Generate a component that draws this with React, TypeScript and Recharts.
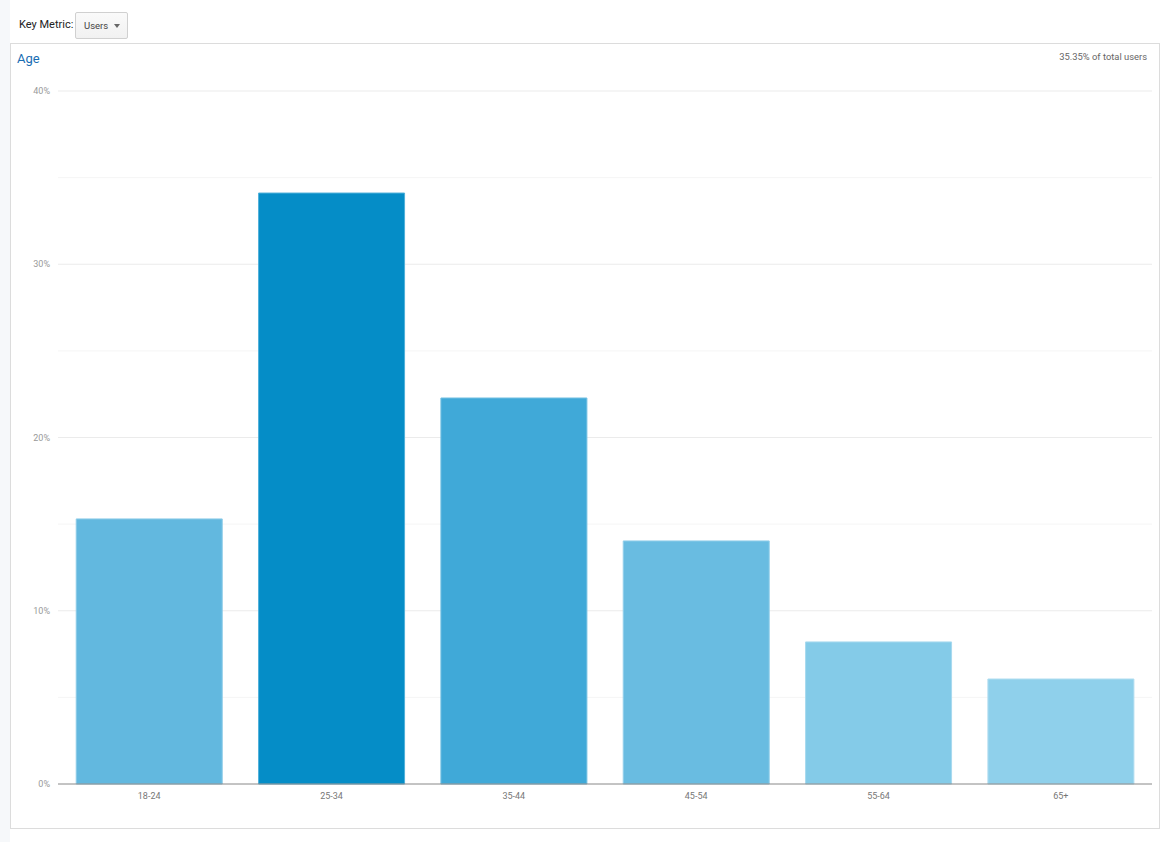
import React from "react";
import { BarChart, Bar, XAxis, YAxis, Cell, CartesianGrid } from "recharts";

// Age breakdown of users (share of users per age bracket, in %)
const ageGroups = ["18-24", "25-34", "35-44", "45-54", "55-64", "65+"];
const userShare = [15.3, 34.11, 22.28, 14.03, 8.2, 6.06];
const barColors = ["#62b8df", "#058dc7", "#40a9d8", "#69bce1", "#84cbe8", "#8fd0eb"];
const barEdges = ["#8ccbe8", "#4fb0da", "#74c0e2", "#93cfea", "#a7d9ee", "#b0ddf0"];
const majorTicks = [0, 10, 20, 30, 40];
const minorTicks = [5, 15, 25, 35];
const allTicks = [0, 5, 10, 15, 20, 25, 30, 35, 40];
const yMax = 40;

const data = ageGroups.map((age, i) => ({ age, users: userShare[i] }));

const font = "Roboto, 'Noto Sans', Arial, sans-serif";

// Places grid rows at the given values of the percent axis
const gridRows = (values: number[]) => (props: any) => {
  const scale = props?.yAxis?.scale;
  const off = props?.offset;
  const toY = (v: number): number => {
    if (typeof scale === "function") return scale(v);
    if (scale && typeof scale.map === "function") return scale.map(v);
    if (off) return off.top + off.height * (1 - v / yMax);
    return 0;
  };
  return values.filter((v) => v > 0).map(toY);
};

export default function App() {
  return (
    <div
      style={{
        position: "absolute",
        left: 0,
        top: 0,
        width: 1170,
        height: 842,
        background: "#ffffff",
        fontFamily: font,
        overflow: "hidden",
      }}
    >
      {/* side strip */}
      <div
        style={{
          position: "absolute",
          left: 0,
          top: 0,
          width: 10,
          height: 842,
          background: "#f6f8fa",
        }}
      />

      {/* key metric selector */}
      <div
        style={{
          position: "absolute",
          left: 19,
          top: 18,
          fontSize: 11,
          color: "#222",
          lineHeight: "14px",
          whiteSpace: "nowrap",
        }}
      >
        Key Metric:
      </div>
      <div
        style={{
          position: "absolute",
          left: 75,
          top: 12,
          width: 51,
          height: 25,
          border: "1px solid #d0d0d0",
          borderRadius: 2,
          background: "linear-gradient(#fafafa, #f1f1f1)",
          boxSizing: "content-box",
        }}
      >
        <span
          style={{
            position: "absolute",
            left: 8,
            top: 7,
            fontSize: 9.5,
            color: "#444",
            lineHeight: "12px",
          }}
        >
          Users
        </span>
        <span
          style={{
            position: "absolute",
            left: 38,
            top: 11,
            width: 0,
            height: 0,
            borderLeft: "3.5px solid transparent",
            borderRight: "3.5px solid transparent",
            borderTop: "4px solid #666",
          }}
        />
      </div>

      {/* chart panel */}
      <div
        style={{
          position: "absolute",
          left: 10,
          top: 43,
          width: 1148,
          height: 784,
          border: "1px solid #dcdcdc",
        }}
      />
      <div
        style={{
          position: "absolute",
          left: 17,
          top: 51,
          fontSize: 13,
          color: "#1a6db3",
          lineHeight: "16px",
        }}
      >
        Age
      </div>
      <div
        style={{
          position: "absolute",
          right: 23,
          top: 51,
          fontSize: 9.4,
          color: "#666",
          lineHeight: "12px",
          whiteSpace: "nowrap",
        }}
      >
        35.35% of total users
      </div>

      <div style={{ position: "absolute", left: 0, top: 0 }}>
        <BarChart
          width={1170}
          height={842}
          data={data}
          margin={{ top: 91, right: 18, bottom: 28, left: 18 }}
          barCategoryGap="10%"
        >
          <CartesianGrid
            vertical={false}
            stroke="#f5f5f5"
            horizontalCoordinatesGenerator={gridRows(minorTicks)}
          />
          <CartesianGrid
            vertical={false}
            stroke="#ebebeb"
            horizontalCoordinatesGenerator={gridRows(majorTicks)}
          />
          <XAxis
            dataKey="age"
            axisLine={{ stroke: "#888888", strokeWidth: 1 }}
            tickLine={false}
            tick={{ fontSize: 9, fill: "#777", fontFamily: font }}
            tickMargin={3}
            height={30}
          />
          <YAxis
            domain={[0, yMax]}
            ticks={allTicks}
            interval={0}
            tickFormatter={(v: number) => (v % 10 === 0 ? `${v}%` : "")}
            axisLine={false}
            tickLine={false}
            tick={{ fontSize: 9, fill: "#999", fontFamily: font }}
            width={40}
          />
          <Bar dataKey="users" isAnimationActive={false} strokeWidth={1}>
            {data.map((d, i) => (
              <Cell key={d.age} fill={barColors[i]} stroke={barEdges[i]} />
            ))}
          </Bar>
        </BarChart>
      </div>
    </div>
  );
}
